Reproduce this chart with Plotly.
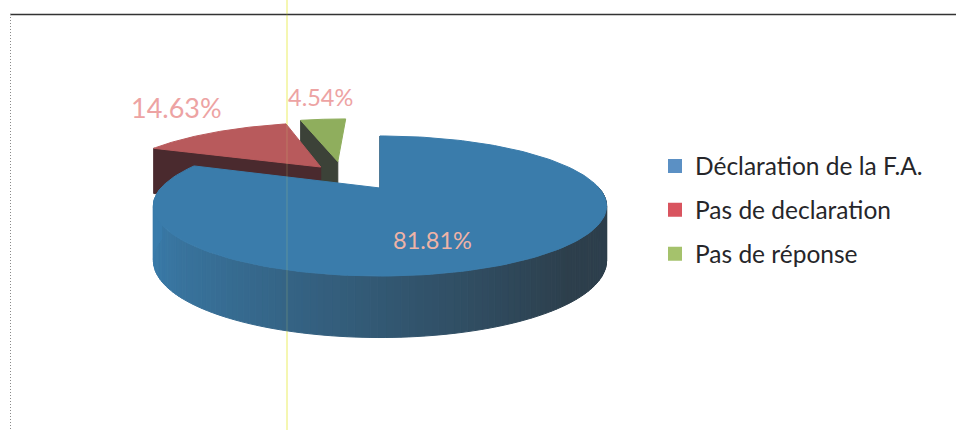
import numpy as np
import plotly.graph_objects as go

# Survey shares shown on the pie
categories = ["Déclaration de la F.A.", "Pas de declaration", "Pas de réponse"]
values = [81.81, 14.63, 4.54]

top_colors = ["#3a7cab", "#b85a5c", "#8fae5d"]
wall_colors = ["#2f4a5c", "#4a2a2e", "#3c4238"]
legend_colors = ["#5b90c4", "#d9545f", "#a5c26c"]
label_colors = ["#efb3a6", "#eda3a3", "#eda3a3"]
label_anchor = [(432, 240), (176, 107), (320, 97)]
label_sizes = [23.5, 27, 23.5]

# Projection of the tilted disc onto the page
CX, CY = 380.0, 188.0
RX, RY, PERSPECTIVE = 219.0, 65.4, 0.257
# Pull-out of each slice from the centre, in disc units
PULL = [(0.0, 0.0), (-0.295, -0.35), (-0.215, -0.45)]


def project(u, v):
    s = 1.0 / (1.0 - PERSPECTIVE * v)
    return CX + RX * u * s, CY + RY * v * s


def thickness(v):
    return 52.0 + 9.5 * v


def mix(a, b, t):
    ca = [int(a[i:i + 2], 16) for i in (1, 3, 5)]
    cb = [int(b[i:i + 2], 16) for i in (1, 3, 5)]
    return "rgb(%d,%d,%d)" % tuple(round(x + (y - x) * t) for x, y in zip(ca, cb))


fig = go.Figure()


def polygon(xs, ys, color):
    fig.add_trace(go.Scatter(
        x=list(xs) + [xs[0]], y=list(ys) + [ys[0]], mode="lines", fill="toself",
        fillcolor=color, line=dict(color=color, width=1),
        hoverinfo="skip", showlegend=False,
    ))


def draw_slice(start, end, pull, top, wall, shaded):
    u0, v0 = pull
    # Cut face along the slice's leading edge
    u1, v1 = u0 + np.sin(start), v0 - np.cos(start)
    x0, y0 = project(u0, v0)
    x1, y1 = project(u1, v1)
    polygon([x0, x1, x1, x0], [y0, y1, y1 + thickness(v1), y0 + thickness(v0)], wall)
    # Outer rim, split into strips so the shading can run along it
    edges = np.linspace(start, end, max(2, int((end - start) / np.radians(1.5)) + 1))
    for a, b in zip(edges[:-1], edges[1:]):
        ub, vb = u0 + np.sin(a), v0 - np.cos(a)
        uc, vc = u0 + np.sin(b), v0 - np.cos(b)
        if vb < 0 and vc < 0:
            continue  # rear part of the rim stays behind the top face
        xb, yb = project(ub, vb)
        xc, yc = project(uc, vc)
        color = wall
        if shaded:
            t = np.clip((np.sin((a + b) / 2) + 1.0) / 1.7, 0, 1)
            color = mix("#3a7cab", "#2d3f4c", t)
        polygon([xb, xc, xc, xb], [yb, yc, yc + thickness(vc), yb + thickness(vb)], color)
    # Top face
    arc = np.linspace(start, end, 181)
    px, py = project(u0 + np.sin(arc), v0 - np.cos(arc))
    polygon([x0] + list(px), [y0] + list(py), top)


# Slice angles clockwise from twelve o'clock, scaled to the sum of the values
total = sum(values)
cuts = np.concatenate([[0.0], np.cumsum(values)]) / total * 2 * np.pi

# Painter's order: the rearmost slice goes first
for i in (2, 1, 0):
    draw_slice(cuts[i], cuts[i + 1], PULL[i], top_colors[i], wall_colors[i], i == 0)

# Legend entries
for name, color in zip(categories, legend_colors):
    fig.add_trace(go.Scatter(
        x=[None], y=[None], mode="markers", name=name, legendgroup=name,
        marker=dict(symbol="square", size=14, color=color),
    ))

# Percentage labels
for value, color, size, (lx, ly) in zip(values, label_colors, label_sizes, label_anchor):
    fig.add_annotation(x=lx, y=ly, text=f"{value:.2f}%", showarrow=False,
                       font=dict(family="Lato", size=size, color=color))

fig.update_layout(
    width=956, height=430, margin=dict(l=0, r=0, t=0, b=0),
    paper_bgcolor="white", plot_bgcolor="white",
    xaxis=dict(range=[0, 956], visible=False),
    yaxis=dict(range=[430, 0], visible=False),
    showlegend=True,
    legend=dict(x=655 / 956, y=1 - 210 / 430, yanchor="middle",
                font=dict(family="Lato", size=24.5, color="#26262a"),
                tracegroupgap=9, bgcolor="rgba(0,0,0,0)"),
    shapes=[
        dict(type="line", xref="x", yref="y", x0=10, x1=956, y0=14.5, y1=14.5,
             line=dict(color="#333333", width=1.4)),
        dict(type="line", xref="x", yref="y", x0=10.5, x1=10.5, y0=14, y1=430,
             line=dict(color="#8a8a8a", width=1, dash="1px,2px")),
        # Pale yellow rule: clear on the page, only a trace across the pie
        dict(type="line", xref="x", yref="y", x0=287, x1=287, y0=0, y1=430, layer="below",
             line=dict(color="rgba(250,250,130,0.6)", width=1.8)),
        dict(type="line", xref="x", yref="y", x0=287, x1=287, y0=0, y1=430,
             line=dict(color="rgba(200,210,120,0.14)", width=1.8)),
    ],
)

fig.write_html("out.html")
